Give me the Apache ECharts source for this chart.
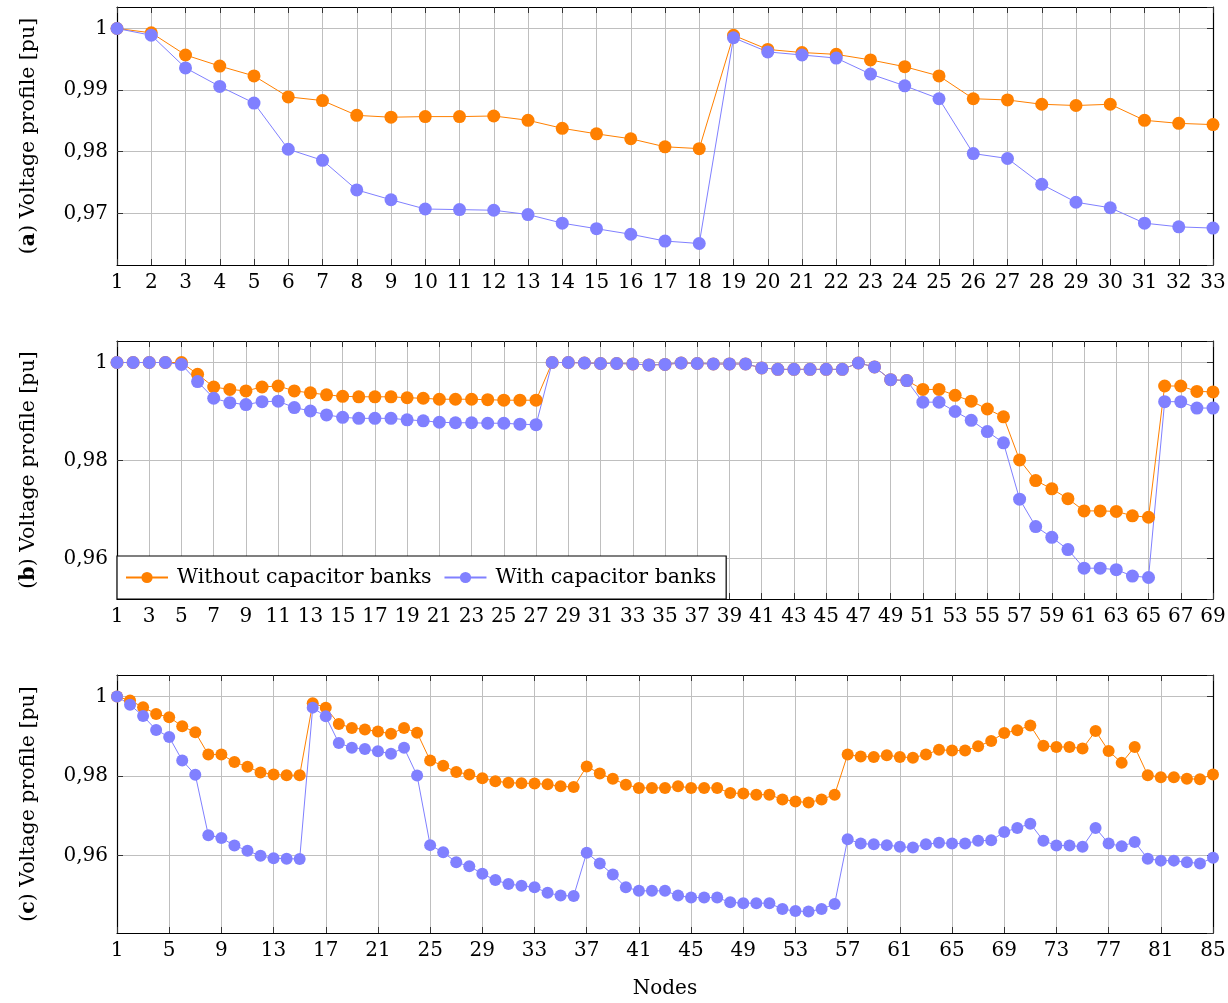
<!DOCTYPE html>
<html>
<head>
<meta charset="utf-8">
<script src="https://cdn.jsdelivr.net/npm/echarts@6/dist/echarts.min.js"></script>
<style>
  html, body { margin: 0; padding: 0; background: #fff; }
  #chart { width: 1228px; height: 1003px; }
</style>
</head>
<body>
<div id="chart"></div>
<script>
// legend names
var seriesNames = ['Without capacitor banks', 'With capacitor banks'];

// (a) 33-node system
var withoutA = [1.0, 0.9993, 0.9957, 0.9939, 0.9923, 0.9889, 0.9883, 0.9859, 0.9856, 0.9857, 0.9857,
  0.9858, 0.9851, 0.9838, 0.9829, 0.9821, 0.9808, 0.9805, 0.9989, 0.9966, 0.9961, 0.9958, 0.9949,
  0.9938, 0.9923, 0.9886, 0.9884, 0.9877, 0.9875, 0.9877, 0.9851, 0.9846, 0.9844];
var withA = [1.0, 0.9989, 0.9936, 0.9906, 0.9879, 0.9804, 0.9786, 0.9738, 0.9722, 0.9707, 0.9706,
  0.9705, 0.9698, 0.9684, 0.9675, 0.9666, 0.9655, 0.9651, 0.9985, 0.9962, 0.9957, 0.9952, 0.9926,
  0.9907, 0.9886, 0.9797, 0.9789, 0.9747, 0.9718, 0.9709, 0.9684, 0.9678, 0.9676];

// (b) 69-node system
var withoutB = [1.0, 1.0, 1.0, 1.0, 1.0,
  0.9976, 0.9950, 0.9945, 0.9942, 0.9950, 0.9952,
  0.9942, 0.9938, 0.9934, 0.9931, 0.9930, 0.9930, 0.9930,
  0.9928, 0.9927, 0.9925, 0.9925, 0.9925, 0.9924, 0.9923, 0.9923, 0.9923,
  1.0, 1.0, 0.9999, 0.9998, 0.9998, 0.9997, 0.9995, 0.9996,
  0.9999, 0.9998, 0.9997, 0.9997, 0.9997,
  0.9989, 0.9986, 0.9986, 0.9986, 0.9986, 0.9986,
  0.9999, 0.9991, 0.9965, 0.9963,
  0.9945, 0.9945, 0.9933, 0.9921, 0.9905, 0.9889,
  0.9801, 0.9759, 0.9742, 0.9722, 0.9697, 0.9697, 0.9696, 0.9687, 0.9684,
  0.9952, 0.9952, 0.9941, 0.9940];
var withB = [1.0, 1.0, 1.0, 1.0, 0.9996,
  0.9961, 0.9927, 0.9918, 0.9914, 0.9920, 0.9921,
  0.9908, 0.9901, 0.9893, 0.9888, 0.9886, 0.9886, 0.9886,
  0.9883, 0.9881, 0.9878, 0.9877, 0.9877, 0.9876, 0.9876, 0.9874, 0.9873,
  1.0, 1.0, 0.9999, 0.9998, 0.9998, 0.9997, 0.9995, 0.9996,
  0.9999, 0.9998, 0.9997, 0.9997, 0.9997,
  0.9989, 0.9986, 0.9986, 0.9986, 0.9986, 0.9986,
  0.9999, 0.9991, 0.9965, 0.9963,
  0.9919, 0.9919, 0.9900, 0.9882, 0.9859, 0.9836,
  0.9721, 0.9665, 0.9643, 0.9618, 0.9580, 0.9580, 0.9577, 0.9564, 0.9561,
  0.9920, 0.9920, 0.9907, 0.9907];

// (c) 85-node system
var withoutC = [1.0, 0.9990, 0.9973, 0.9956, 0.9948, 0.9925, 0.9910, 0.9854, 0.9854, 0.9835,
  0.9823, 0.9809, 0.9804, 0.9802, 0.9802, 0.9983, 0.9972, 0.9931, 0.9921, 0.9917,
  0.9912, 0.9906, 0.9921, 0.9909, 0.9839, 0.9826, 0.9810, 0.9804, 0.9794, 0.9787,
  0.9783, 0.9782, 0.9781, 0.9779, 0.9774, 0.9772, 0.9824, 0.9806, 0.9793, 0.9778,
  0.9770, 0.9770, 0.9770, 0.9774, 0.9770, 0.9770, 0.9770, 0.9757, 0.9756, 0.9753,
  0.9753, 0.9741, 0.9736, 0.9733, 0.9741, 0.9753, 0.9854, 0.9849, 0.9848, 0.9852,
  0.9848, 0.9846, 0.9854, 0.9866, 0.9864, 0.9864, 0.9875, 0.9888, 0.9908, 0.9915,
  0.9927, 0.9876, 0.9873, 0.9873, 0.9869, 0.9913, 0.9863, 0.9833, 0.9873, 0.9802,
  0.9797, 0.9797, 0.9793, 0.9792, 0.9804];
var withC = [1.0, 0.9979, 0.9951, 0.9916, 0.9898, 0.9839, 0.9803, 0.9651, 0.9644, 0.9625,
  0.9612, 0.9599, 0.9593, 0.9592, 0.9591, 0.9972, 0.9950, 0.9883, 0.9871, 0.9868,
  0.9862, 0.9856, 0.9871, 0.9801, 0.9626, 0.9608, 0.9583, 0.9573, 0.9554, 0.9538,
  0.9528, 0.9524, 0.9520, 0.9506, 0.9499, 0.9498, 0.9607, 0.9580, 0.9552, 0.9520,
  0.9511, 0.9511, 0.9511, 0.9499, 0.9494, 0.9494, 0.9494, 0.9482, 0.9480, 0.9480,
  0.9480, 0.9465, 0.9460, 0.9459, 0.9465, 0.9478, 0.9641, 0.9630, 0.9628, 0.9626,
  0.9622, 0.9620, 0.9628, 0.9632, 0.9630, 0.9630, 0.9637, 0.9638, 0.9659, 0.9669,
  0.9680, 0.9637, 0.9625, 0.9625, 0.9622, 0.9669, 0.9630, 0.9623, 0.9634, 0.9592,
  0.9587, 0.9587, 0.9583, 0.9580, 0.9594];

function nodeLabels (n) {
  var out = [];
  for (var i = 1; i <= n; i++) out.push(String(i));
  return out;
}
var nodesA = nodeLabels(33);
var nodesB = nodeLabels(69);
var nodesC = nodeLabels(85);

var FONT = 'DejaVu Serif';
var ORANGE = '#ff8000';
var BLUE = '#8080ff';

// pgfplots style: enlarge y limits by 10% of the data range
function yRange (a, b) {
  var all = a.concat(b);
  var lo = Math.min.apply(null, all), hi = Math.max.apply(null, all);
  var pad = (hi - lo) * 0.1;
  return [lo - pad, hi + pad];
}

function fmtY (v) {
  return String(Number(v.toFixed(4))).replace('.', ',');
}

var panels = [
  { nodes: nodesA, without: withoutA, with: withA, top: 7, step: 0, split: 5, tag: 'a', size: 13 },
  { nodes: nodesB, without: withoutB, with: withB, top: 341, step: 1, split: 3, tag: 'b', size: 13 },
  { nodes: nodesC, without: withoutC, with: withC, top: 675, step: 3, split: 3, tag: 'c', size: 12 }
];

var grids = [], xAxes = [], yAxes = [], series = [];
panels.forEach(function (p, i) {
  var r = yRange(p.without, p.with);
  grids.push({ left: 117, top: p.top, width: 1096, height: 258, outerBoundsMode: 'none' });
  var tick = { show: true, inside: true, length: 6, interval: p.step, lineStyle: { color: '#333' } };
  xAxes.push({
    type: 'category', gridIndex: i, data: p.nodes, boundaryGap: false,
    axisLine: { lineStyle: { color: '#000', width: 1.2 } },
    axisTick: tick,
    axisLabel: { interval: p.step, margin: 8, color: '#000', fontFamily: FONT, fontSize: 20 },
    splitLine: { show: true, interval: p.step, lineStyle: { color: '#bfbfbf', width: 1 } },
    name: i == 2 ? 'Nodes' : '', nameLocation: 'middle', nameGap: 46,
    nameTextStyle: { color: '#000', fontFamily: FONT, fontSize: 20 }
  });
  xAxes.push({
    type: 'category', gridIndex: i, data: p.nodes, boundaryGap: false, position: 'top',
    axisLine: { lineStyle: { color: '#000', width: 1.2 } },
    axisTick: tick, axisLabel: { show: false }, splitLine: { show: false }
  });
  var ytick = { show: true, inside: true, length: 6, lineStyle: { color: '#333' } };
  yAxes.push({
    type: 'value', gridIndex: i, min: r[0], max: r[1], splitNumber: p.split,
    axisLine: { show: true, lineStyle: { color: '#000', width: 1.2 } },
    axisTick: ytick,
    axisLabel: { showMinLabel: false, showMaxLabel: false, margin: 9, color: '#000',
      fontFamily: FONT, fontSize: 20, formatter: fmtY },
    splitLine: { show: true, lineStyle: { color: '#bfbfbf', width: 1 } },
    name: '({b|' + p.tag + '}) Voltage profile [pu]', nameLocation: 'middle', nameGap: 78,
    nameTextStyle: { color: '#000', fontFamily: FONT, fontSize: 20.5,
      rich: { b: { fontWeight: 'bold', fontFamily: FONT, fontSize: 20.5, color: '#000' } } }
  });
  yAxes.push({
    type: 'value', gridIndex: i, min: r[0], max: r[1], splitNumber: p.split, position: 'right',
    axisLine: { show: true, lineStyle: { color: '#000', width: 1.2 } },
    axisTick: ytick, axisLabel: { show: false }, splitLine: { show: false }
  });
  [[seriesNames[0], p.without, ORANGE], [seriesNames[1], p.with, BLUE]].forEach(function (s) {
    series.push({
      name: s[0], type: 'line', data: s[1], xAxisIndex: i * 2, yAxisIndex: i * 2,
      symbol: 'circle', symbolSize: p.size, showSymbol: true, showAllSymbol: true,
      itemStyle: { color: s[2] }, lineStyle: { color: s[2], width: 1 }
    });
  });
});

var chart = echarts.init(document.getElementById('chart'));
chart.setOption({
  animation: false,
  backgroundColor: '#fff',
  grid: grids,
  xAxis: xAxes,
  yAxis: yAxes,
  legend: {
    data: seriesNames, left: 117, top: 556, orient: 'horizontal',
    backgroundColor: '#fff', borderColor: '#000', borderWidth: 1.2, borderRadius: 0,
    padding: [11, 10, 11, 8], itemWidth: 42, itemHeight: 14, itemGap: 12,
    textStyle: { color: '#000', fontFamily: FONT, fontSize: 20.5, padding: [0, 0, 0, 4] }
  },
  series: series
});
</script>
</body>
</html>
